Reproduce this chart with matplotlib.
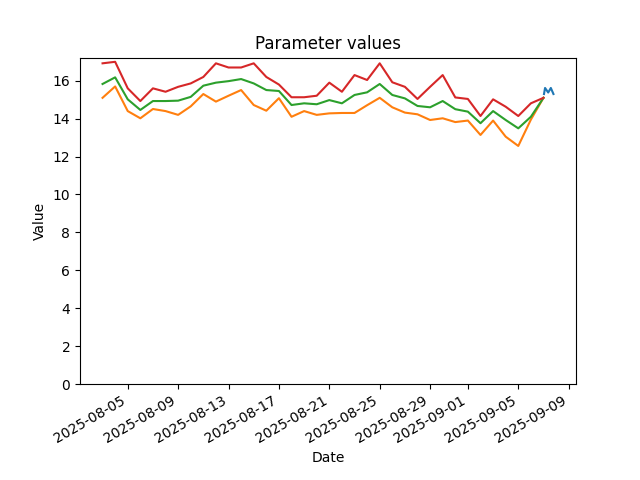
import matplotlib
matplotlib.use("Agg")
import matplotlib.pyplot as plt
import numpy as np
import pandas as pd

dates = pd.date_range("2025-08-03", "2025-09-07", freq="D")

upper = [16.92, 17.0, 15.6, 14.93, 15.6, 15.42, 15.68, 15.86, 16.2, 16.92,
         16.7, 16.7, 16.92, 16.2, 15.8, 15.13, 15.13, 15.21, 15.9, 15.42,
         16.3, 16.04, 16.92, 15.92, 15.68, 15.04, 15.68, 16.3, 15.12, 15.04,
         14.14, 15.02, 14.63, 14.14, 14.81, 15.1]
middle = [15.83, 16.18, 15.02, 14.46, 14.93, 14.93, 14.95, 15.15, 15.74, 15.9,
          15.98, 16.09, 15.86, 15.51, 15.46, 14.72, 14.81, 14.76, 14.98, 14.81,
          15.25, 15.39, 15.83, 15.25, 15.07, 14.67, 14.6, 14.93, 14.5, 14.37,
          13.76, 14.4, 13.93, 13.49, 14.1, 15.1]
lower = [15.1, 15.7, 14.4, 14.02, 14.51, 14.4, 14.2, 14.65, 15.3, 14.9,
         15.21, 15.51, 14.72, 14.42, 15.08, 14.1, 14.4, 14.2, 14.28, 14.3,
         14.3, 14.71, 15.1, 14.6, 14.32, 14.23, 13.93, 14.02, 13.82, 13.9,
         13.14, 13.9, 13.05, 12.56, 13.95, 15.1]

obs_times = pd.to_datetime(["2025-09-07 01:00", "2025-09-07 03:00", "2025-09-07 09:00",
                            "2025-09-07 14:00", "2025-09-07 19:00"])
obs_values = [15.3, 15.62, 15.38, 15.62, 15.3]

fig, ax = plt.subplots(figsize=(6.4, 4.8), dpi=100)
ax.plot(obs_times, obs_values, color="C0")
ax.plot(dates, lower, color="C1")
ax.plot(dates, middle, color="C2")
ax.plot(dates, upper, color="C3")
ax.set_ylim(bottom=0)
ax.set_title("Parameter values")
ax.set_xlabel("Date")
ax.set_ylabel("Value")
fig.autofmt_xdate()
fig.savefig("out.png")
